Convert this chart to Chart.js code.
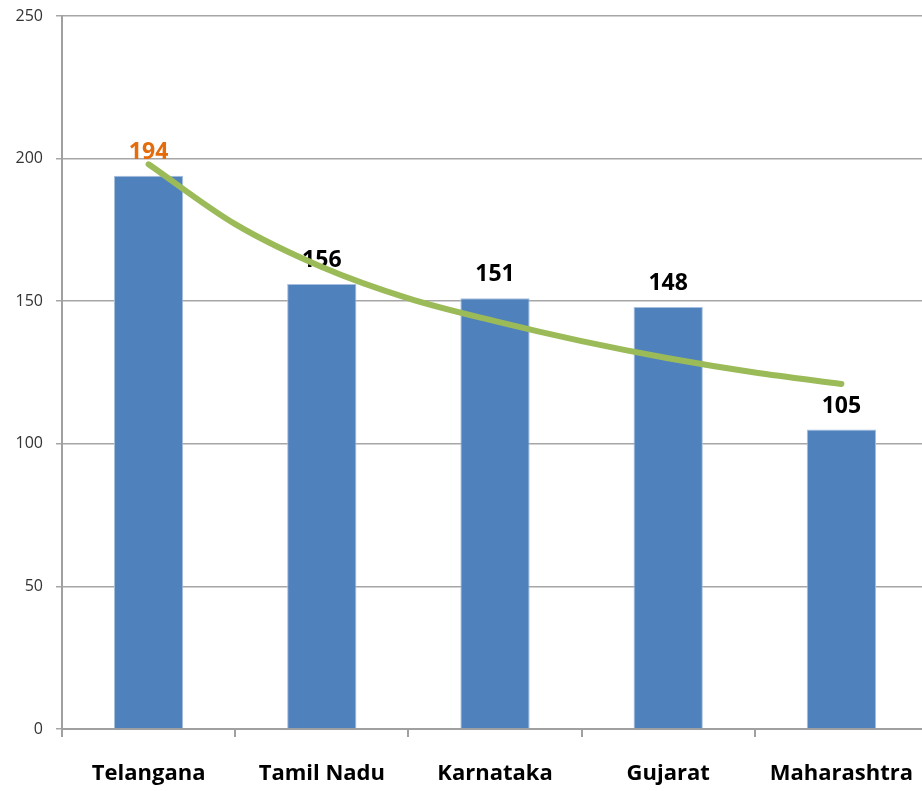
<!DOCTYPE html>
<html>
<head>
<meta charset="utf-8">
<script src="https://cdn.jsdelivr.net/npm/chart.js@4.4.1/dist/chart.umd.min.js"></script>
<style>
  html, body { margin: 0; padding: 0; background: #fff; overflow: hidden; }
  #wrap { width: 928px; height: 791px; }
</style>
</head>
<body>
<div id="wrap"><canvas id="c" width="928" height="791"></canvas></div>
<script>
// ---- data ----
const categories = ['Telangana', 'Tamil Nadu', 'Karnataka', 'Gujarat', 'Maharashtra'];
const values = [194, 156, 151, 148, 105];
// trendline at category positions (1 = first category)
const trendX = [1, 1.5, 2, 2.5, 3, 3.5, 4, 4.5, 5];
const trendY = [198, 177, 162, 151, 143, 136, 130, 125, 121];
const yMin = 0;
const yMax = 250;
const yStep = 50;

// ---- styles ----
const labelColors = ['#E46C0A', '#000000', '#000000', '#000000', '#000000'];

const barLabelPlugin = {
  id: 'barLabels',
  afterDatasetDraw(chart, args) {
    if (args.index !== 0) return;
    const ctx = chart.ctx;
    const meta = chart.getDatasetMeta(0);
    ctx.save();
    ctx.font = 'bold 23px "Open Sans", sans-serif';
    ctx.textAlign = 'center';
    ctx.textBaseline = 'alphabetic';
    meta.data.forEach((bar, i) => {
      ctx.fillStyle = labelColors[i];
      ctx.fillText(String(values[i]), bar.x, bar.y - 17);
    });
    ctx.restore();
  }
};

new Chart(document.getElementById('c'), {
  data: {
    labels: categories,
    datasets: [
      {
        type: 'bar',
        xAxisID: 'x',
        yAxisID: 'y',
        data: values,
        backgroundColor: '#4F81BD',
        borderColor: '#A7BFDE',
        borderWidth: 1,
        barPercentage: 0.4,
        categoryPercentage: 1.0,
        grouped: false,
        order: 2
      },
      {
        type: 'line',
        xAxisID: 'xTrend',
        yAxisID: 'y',
        data: trendX.map((x, i) => ({ x: x, y: trendY[i] })),
        borderColor: '#9BBB59',
        borderWidth: 6,
        borderCapStyle: 'round',
        pointRadius: 0,
        pointHoverRadius: 0,
        fill: false,
        cubicInterpolationMode: 'monotone',
        order: 1
      }
    ]
  },
  options: {
    responsive: false,
    devicePixelRatio: 1,
    animation: false,
    layout: { autoPadding: false, padding: { top: 16, left: 0, right: 0, bottom: 0 } },
    plugins: {
      legend: { display: false },
      tooltip: { enabled: false }
    },
    scales: {
      x: {
        type: 'category',
        offset: true,
        grid: {
          offset: true,
          drawOnChartArea: false,
          drawTicks: true,
          tickLength: 8,
          color: '#A0A0A0',
          lineWidth: 2
        },
        border: { color: '#A0A0A0', width: 2 },
        ticks: {
          color: '#000000',
          font: { family: '"Open Sans", sans-serif', size: 22, weight: 'bold' },
          padding: 24,
          maxRotation: 0,
          autoSkip: false
        },
        afterFit(scale) {
          scale.height = 62;
          scale.paddingLeft = 0;
          scale.paddingRight = 0;
        }
      },
      xTrend: {
        type: 'linear',
        axis: 'x',
        display: false,
        min: 0.5,
        max: 5.5
      },
      y: {
        type: 'linear',
        min: yMin,
        max: yMax,
        ticks: {
          stepSize: yStep,
          color: '#333333',
          font: { family: '"Open Sans", sans-serif', size: 16 },
          padding: 13
        },
        grid: {
          color: '#A6A6A6',
          lineWidth: 1.5,
          tickLength: 6
        },
        border: { color: '#A0A0A0', width: 2 },
        afterFit(scale) {
          scale.width = 62;
          scale.paddingTop = 0;
          scale.paddingBottom = 0;
        }
      }
    }
  },
  plugins: [barLabelPlugin]
});
</script>
</body>
</html>
